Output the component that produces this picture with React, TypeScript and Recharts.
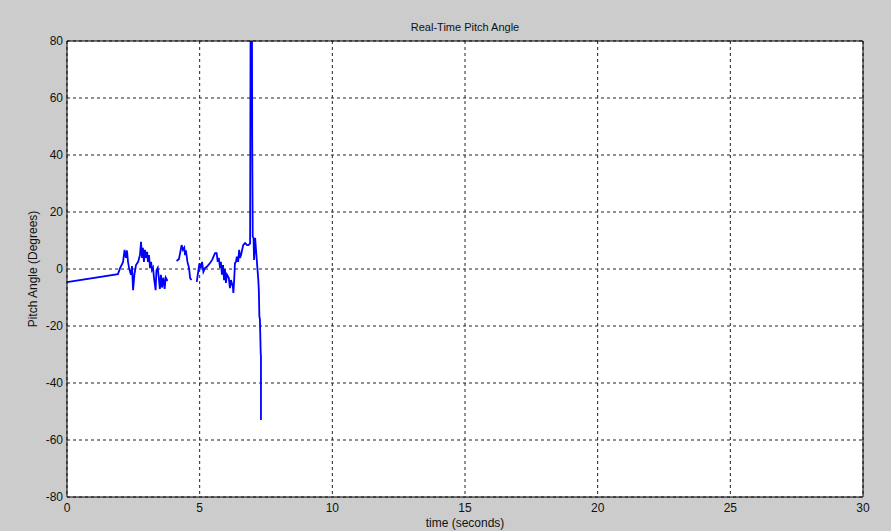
import React from 'react';
import {
  LineChart,
  Line,
  XAxis,
  YAxis,
  CartesianGrid,
  Label,
  ReferenceLine,
} from 'recharts';

// time in seconds, null pitch = gap in the recording
const timeValues = [
  0, 1.92, 2.0, 2.11, 2.17, 2.22, 2.26, 2.3, 2.34, 2.41, 2.45, 2.49, 2.54, 2.6, 2.68,
  2.75, 2.79, 2.83, 2.86, 2.9, 2.94, 2.98, 3.02, 3.05, 3.09, 3.13, 3.17, 3.2, 3.24,
  3.28, 3.34, 3.37, 3.42, 3.47, 3.5, 3.54, 3.58, 3.63, 3.68, 3.72, 3.78, 3.8,
  3.95,
  4.13, 4.22, 4.32, 4.37, 4.42, 4.45, 4.48, 4.54, 4.6, 4.64, 4.69,
  4.8,
  4.89, 4.99, 5.04, 5.09, 5.14, 5.2, 5.27, 5.39, 5.47, 5.58, 5.64, 5.68, 5.72, 5.77,
  5.8, 5.84, 5.88, 5.92, 5.95, 5.99, 6.03, 6.1, 6.14, 6.18, 6.25, 6.27, 6.3, 6.33,
  6.37, 6.4, 6.45, 6.49, 6.52, 6.56, 6.64, 6.71, 6.79, 6.84, 6.9, 6.93, 6.96, 6.98,
  7.0, 7.03, 7.05, 7.09, 7.21, 7.23, 7.25, 7.27, 7.3, 7.31, 7.31,
];

const pitchValues: (number | null)[] = [
  -4.6, -1.8, 0.3, 2.4, 6.7, 3.9, 6.5, 2.5, 0.3, -2.0, 1.0, -7.4, -2.0, 1.4, 2.5,
  4.9, 9.5, 3.9, 7.4, 2.5, 6.7, 3.9, 6.0, 2.5, 4.9, 0.3, 2.5, -0.3, 0.5,
  -3.2, -7.4, -0.5, 0.4, -4.0, -7.0, -2.0, -6.5, -3.0, -7.0, -3.0, -4.0, -4.0,
  null,
  2.8, 3.5, 8.4, 6.7, 7.5, 4.9, 6.5, 2.5, 0.3, -3.2, -3.9,
  null,
  -4.5, 2.0, 0.3, 2.5, -1.0, 0.3, 0.8, 2.1, 3.2, 5.6, 5.6, 2.5, 3.9, 0.3,
  2.5, -2.0, 1.4, -3.9, 0.0, -4.9, -2.0, -3.2, -6.7, -3.9, -6.2, -8.4, -3.9, 2.1,
  2.5, 4.3, 2.5, 6.7, 3.9, 4.9, 8.4, 9.1, 8.4, 8.4, 9.0, 130, 130, 46,
  11.3, 10.9, 3.2, 10.9, -3.9, -7.4, -16.7, -17.5, -29.5, -30.5, -53,
];

const xTicks = [0, 5, 10, 15, 20, 25, 30];
const yTicks = [-80, -60, -40, -20, 0, 20, 40, 60, 80];

const data = timeValues.map((t, i) => ({ t, pitch: pitchValues[i] }));

const FONT = 'Liberation Sans, Arial, sans-serif';
const tickStyle = { fill: '#111', fontSize: 12, fontFamily: FONT };

export default function App() {
  return (
    <div
      style={{
        position: 'fixed',
        left: 0,
        top: 0,
        width: 891,
        height: 531,
        background: '#cccccc',
      }}
    >
      <div
        style={{
          position: 'absolute',
          top: 21,
          left: 67,
          width: 796,
          textAlign: 'center',
          fontSize: 11,
          fontFamily: FONT,
          color: '#111',
        }}
      >
        Real-Time Pitch Angle
      </div>
      <LineChart
        width={891}
        height={531}
        data={data}
        margin={{ top: 41, right: 28, bottom: 0, left: 0 }}
      >
        <CartesianGrid stroke="#222" strokeDasharray="3 3" fill="#ffffff" />
        <XAxis
          dataKey="t"
          type="number"
          domain={[0, 30]}
          ticks={xTicks}
          height={34}
          tickSize={0}
          tickMargin={6}
          tick={tickStyle}
          axisLine={{ stroke: '#000' }}
          tickLine={false}
          interval={0}
        >
          <Label
            value="time (seconds)"
            position="insideBottom"
            offset={4}
            style={{ fill: '#111', fontSize: 12, fontFamily: FONT }}
          />
        </XAxis>
        <YAxis
          type="number"
          domain={[-80, 80]}
          ticks={yTicks}
          width={67}
          tickSize={0}
          tickMargin={4}
          tick={tickStyle}
          axisLine={{ stroke: '#000' }}
          tickLine={false}
          allowDataOverflow
          interval={0}
        >
          <Label
            value="Pitch Angle (Degrees)"
            angle={-90}
            position="insideLeft"
            offset={33}
            style={{ fill: '#111', fontSize: 12, fontFamily: FONT, textAnchor: 'middle' }}
          />
        </YAxis>
        <ReferenceLine y={80} stroke="#000" strokeWidth={1} />
        <ReferenceLine x={30} stroke="#000" strokeWidth={1} />
        <Line
          dataKey="pitch"
          type="linear"
          stroke="#0000ff"
          strokeWidth={1.8}
          dot={false}
          connectNulls={false}
          isAnimationActive={false}
        />
      </LineChart>
    </div>
  );
}
